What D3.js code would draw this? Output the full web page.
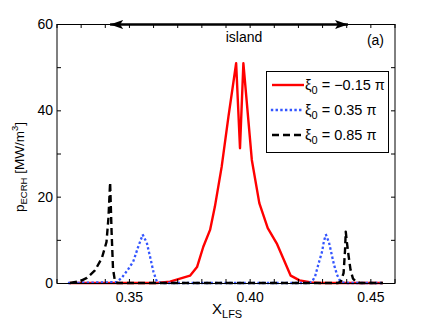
<!DOCTYPE html>
<html>
<head>
<meta charset="utf-8">
<script src="https://cdn.jsdelivr.net/npm/d3@7"></script>
<style>
  body { margin: 0; background: #fff; }
  text { font-family: "Liberation Sans", Arial, sans-serif; fill: #000; }
</style>
</head>
<body>
<div id="chart"></div>
<script>
const WIDTH = 436,
    HEIGHT = 326,
    LEFT = 57, RIGHT = 395, TOP = 24, BOTTOM = 283;

// series
const redX = [0.325, 0.35, 0.3614, 0.3668, 0.3751, 0.378, 0.3806, 0.3834, 0.3854, 0.3882, 0.391, 0.3942, 0.3958, 0.3972, 0.4007, 0.4038, 0.4073, 0.411, 0.4168, 0.4205, 0.4252, 0.429, 0.455];
const redY = [0, 0, 0, 0.3, 1.7, 3.7, 8.4, 12.3, 17.7, 26.9, 38.5, 50.9, 31.2, 50.9, 28.5, 18.5, 12.7, 9.2, 1.7, 0.6, 0.15, 0, 0];

const blueX = [0.325, 0.3447, 0.3468, 0.3495, 0.3516, 0.3537, 0.3555, 0.3572, 0.3585, 0.3599, 0.3613, 0.363, 0.424, 0.4256, 0.4269, 0.4281, 0.4298, 0.4306, 0.4314, 0.4327, 0.4337, 0.4347, 0.436, 0.4372, 0.4385, 0.44, 0.455];
const blueY = [0, 0.2, 1.2, 3.2, 5.0, 8.5, 11.2, 9.3, 6.2, 2.7, 0.4, 0, 0, 0.3, 1.5, 4.0, 7.3, 9.8, 11.2, 9.3, 6.8, 4.3, 1.9, 0.5, 0.1, 0, 0];

const blackX = [0.3254, 0.3295, 0.3324, 0.3357, 0.3386, 0.3405, 0.3413, 0.342, 0.3426, 0.3432, 0.344, 0.3449, 0.4364, 0.4376, 0.4387, 0.4393, 0.4396, 0.4401, 0.4408, 0.4416, 0.4426, 0.4439, 0.4455, 0.455];
const blackY = [0, 0.4, 1.2, 2.9, 5.8, 9.5, 15, 23.3, 12, 3.3, 0.4, 0, 0, 0.4, 2.3, 7.5, 11.9, 9.3, 6.2, 3.0, 1.0, 0.3, 0, 0];

const legendLabels = ["= \u22120.15 \u03c0", "= 0.35 \u03c0", "= 0.85 \u03c0"];
const xTickLabels = [0.35, 0.40, 0.45];
const yTickLabels = [0, 20, 40, 60];
const islandRange = [0.342, 0.4405];

const x = d3.scaleLinear().domain([0.32, 0.46]).range([LEFT, RIGHT]);
const y = d3.scaleLinear().domain([0, 60]).range([BOTTOM, TOP]);

const svg = d3.select("#chart").append("svg")
    .attr("width", WIDTH)
    .attr("height", HEIGHT);

// series
const series = [
    {xs: redX, ys: redY, color: "#ff0000", dash: null, cap: "butt", w: 2.4},
    {xs: blueX, ys: blueY, color: "#3355ff", dash: "0.1,4.6", cap: "square", w: 2.3},
    {xs: blackX, ys: blackY, color: "#000", dash: "7,4", cap: "butt", w: 2.4}
];

const line = d3.line().x(d => x(d[0])).y(d => y(d[1]));

svg.append("g")
    .selectAll("path")
    .data(series)
    .join("path")
    .attr("d", s => line(d3.zip(s.xs, s.ys)))
    .attr("fill", "none")
    .attr("stroke", s => s.color)
    .attr("stroke-width", s => s.w)
    .attr("stroke-dasharray", s => s.dash)
    .attr("stroke-linecap", s => s.cap)
    .attr("stroke-linejoin", "round");

// axes frame with inward ticks on all sides
const TICK = 4;
const frame = svg.append("g").attr("stroke", "#000").attr("stroke-width", 1);
frame.append("rect")
    .attr("x", LEFT).attr("y", TOP + 0.5)
    .attr("width", RIGHT - LEFT).attr("height", BOTTOM - TOP)
    .attr("fill", "none");

const xTicks = d3.range(32, 47).map(d => d / 100);
const yTicks = d3.range(0, 61, 10);

frame.selectAll(".xb").data(xTicks).join("line")
    .attr("x1", d => x(d)).attr("x2", d => x(d))
    .attr("y1", BOTTOM).attr("y2", BOTTOM - TICK);
frame.selectAll(".xt").data(xTicks).join("line")
    .attr("x1", d => x(d)).attr("x2", d => x(d))
    .attr("y1", TOP).attr("y2", TOP + TICK);
frame.selectAll(".yl").data(yTicks).join("line")
    .attr("x1", LEFT).attr("x2", LEFT + TICK)
    .attr("y1", d => y(d) + 0.5).attr("y2", d => y(d) + 0.5);
frame.selectAll(".yr").data(yTicks).join("line")
    .attr("x1", RIGHT).attr("x2", RIGHT - TICK)
    .attr("y1", d => y(d) + 0.5).attr("y2", d => y(d) + 0.5);

svg.append("g").selectAll("text").data(xTickLabels).join("text")
    .attr("x", d => x(d)).attr("y", 302)
    .attr("text-anchor", "middle")
    .attr("font-size", 14)
    .text(d3.format(".2f"));

svg.append("g").selectAll("text").data(yTickLabels).join("text")
    .attr("x", 53).attr("y", d => y(d) + 5)
    .attr("text-anchor", "end")
    .attr("font-size", 14)
    .text(d => d);

// axis labels
const xl = svg.append("text").attr("x", 212).attr("y", 314).attr("font-size", 15);
xl.append("tspan").text("X");
xl.append("tspan").attr("font-size", 11).attr("dy", 4).text("LFS");

const yl = svg.append("text")
    .attr("transform", "translate(24,212) rotate(-90)")
    .attr("font-size", 13.5);
yl.append("tspan").text("p");
yl.append("tspan").attr("font-size", 9.5).attr("dy", 3).text("ECRH");
yl.append("tspan").attr("dy", -3).text(" [MW/m");
yl.append("tspan").attr("font-size", 9.5).attr("dy", -6).text("3");
yl.append("tspan").attr("dy", 6).text("]");

// island arrow
const defs = svg.append("defs");
defs.append("marker")
    .attr("id", "head")
    .attr("viewBox", "0 0 13 9")
    .attr("refX", 13).attr("refY", 4.5)
    .attr("markerWidth", 13).attr("markerHeight", 9)
    .attr("markerUnits", "userSpaceOnUse")
    .attr("orient", "auto-start-reverse")
    .append("path")
    .attr("d", "M0,0 L13,4.5 L0,9 L3,4.5 Z")
    .attr("fill", "#000");

svg.append("line")
    .attr("x1", x(islandRange[0])).attr("x2", x(islandRange[1]))
    .attr("y1", TOP + 0.5).attr("y2", TOP + 0.5)
    .attr("stroke", "#000").attr("stroke-width", 2.5)
    .attr("marker-start", "url(#head)")
    .attr("marker-end", "url(#head)");

svg.append("text").attr("x", 244).attr("y", 42)
    .attr("text-anchor", "middle").attr("font-size", 14).text("island");

svg.append("text").attr("x", 384).attr("y", 45)
    .attr("text-anchor", "end").attr("font-size", 14).text("(a)");

// legend
const legend = svg.append("g");
legend.append("rect")
    .attr("x", 266.5).attr("y", 71.5).attr("width", 122).attr("height", 81)
    .attr("fill", "#fff").attr("stroke", "#000").attr("stroke-width", 1);

const rows = legend.selectAll("g.row").data(series).join("g")
    .attr("class", "row")
    .attr("transform", (d, i) => `translate(0,${85 + i * 25})`);
rows.append("line")
    .attr("x1", 272).attr("x2", 304).attr("y1", 0).attr("y2", 0)
    .attr("stroke", d => d.color)
    .attr("stroke-width", d => d.w)
    .attr("stroke-dasharray", d => d.dash)
    .attr("stroke-linecap", d => d.cap);
const lt = rows.append("text").attr("x", 305).attr("y", 5).attr("font-size", 14.5);
lt.append("tspan").text("\u03be");
lt.append("tspan").attr("font-size", 11).attr("dy", 4).text("0");
lt.append("tspan").attr("dy", -4).text((d, i) => " " + legendLabels[i]);
</script>
</body>
</html>
